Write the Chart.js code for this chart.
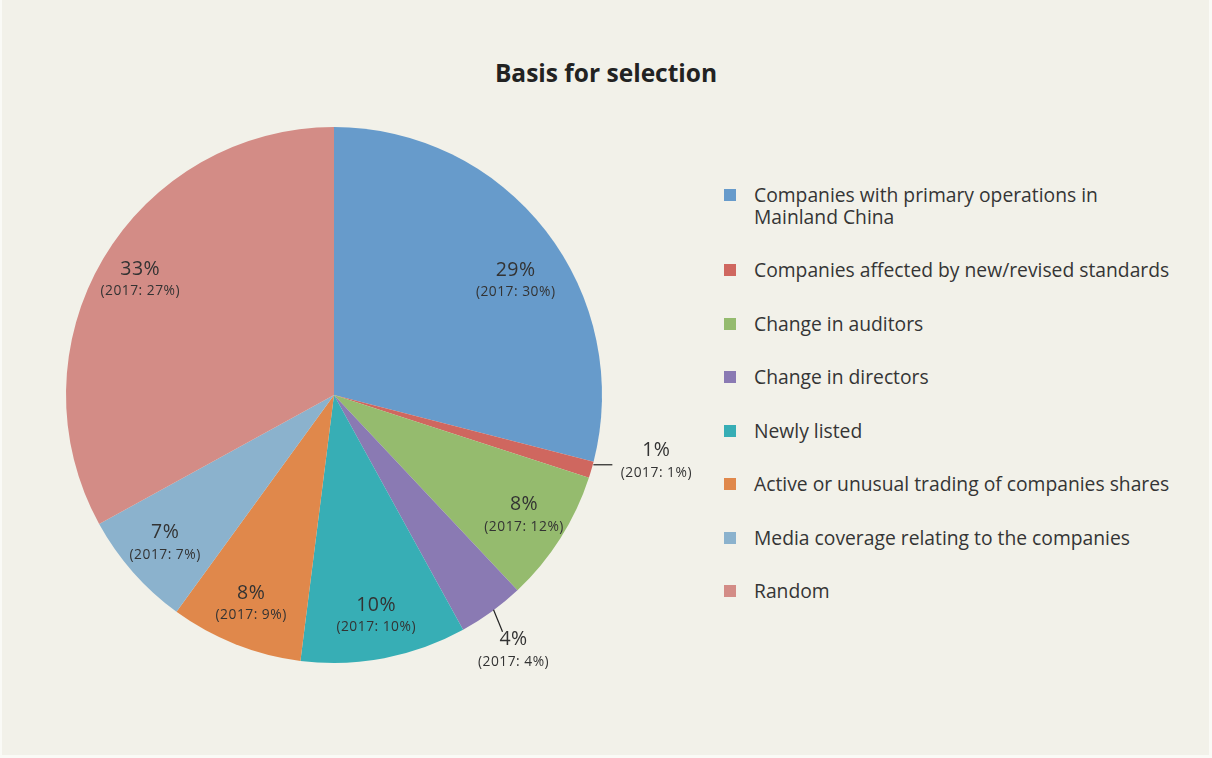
<!DOCTYPE html>
<html>
<head>
<meta charset="utf-8">
<script src="https://cdn.jsdelivr.net/npm/chart.js@4/dist/chart.umd.min.js"></script>
<style>
    html, body { margin: 0; padding: 0; }
    body { width: 1212px; height: 758px; background: #fafaf6; position: relative; overflow: hidden; font-family: "Open Sans", sans-serif; color: #333; }
    #panel { position: absolute; left: 2px; top: 0; width: 1207px; height: 755px; background: #f2f1e9; }
    #title { position: absolute; left: 0; width: 1212px; top: 56px; text-align: center; font-weight: bold; font-size: 24.5px; color: #222; }
    #chartBox { position: absolute; left: 0; top: 0; width: 720px; height: 758px; }
    #legend { position: absolute; left: 724px; top: 184px; width: 485px; }
    .item { position: relative; padding-left: 30px; font-size: 19.3px; line-height: 21.5px; margin-bottom: 32px; color: #353535; }
    .item i { position: absolute; left: 0; top: 5px; width: 12px; height: 12px; }
</style>
</head>
<body>
<div id="panel"></div>
<div id="title">Basis for selection</div>
<div id="chartBox"><canvas id="pieChart"></canvas></div>
<div id="legend"></div>
<script>
// basis for selection data
const categories = [
    'Companies with primary operations in\nMainland China',
    'Companies affected by new/revised standards',
    'Change in auditors',
    'Change in directors',
    'Newly listed',
    'Active or unusual trading of companies shares',
    'Media coverage relating to the companies',
    'Random'
];
const values2018 = [29, 1, 8, 4, 10, 8, 7, 33];
const values2017 = [30, 1, 12, 4, 10, 9, 7, 27];
const colors = ['#679bcb', '#cf675f', '#95bb6e', '#8a7ab3', '#37aeb5', '#e0884b', '#8bb2cd', '#d38c86'];

// legend built from the same arrays
const legendEl = document.getElementById('legend');
categories.forEach((c, i) => {
    const div = document.createElement('div');
    div.className = 'item';
    div.innerHTML = `<i style="background:${colors[i]}"></i>` + c.split('\n').join('<br>');
    legendEl.appendChild(div);
});

// labels drawn on top of arcs; small slices get a leader line
const pieLabels = {
    id: 'pieLabels',
    afterDatasetsDraw(chart) {
        const ctx = chart.ctx;
        const meta = chart.getDatasetMeta(0);
        ctx.save();
        ctx.fillStyle = '#333';
        ctx.textAlign = 'center';
        ctx.textBaseline = 'middle';
        meta.data.forEach((arc, i) => {
            const { x, y, startAngle, endAngle, outerRadius } = arc.getProps(['x', 'y', 'startAngle', 'endAngle', 'outerRadius'], true);
            let mid = (startAngle + endAngle) / 2;
            let lx, ly;
            if (values2018[i] <= 1) {
                const ex = x + Math.cos(mid) * outerRadius, ey = y + Math.sin(mid) * outerRadius - 5;
                ctx.strokeStyle = '#222'; ctx.lineWidth = 1.2;
                ctx.beginPath(); ctx.moveTo(ex + 2, ey); ctx.lineTo(ex + 21, ey); ctx.stroke();
                lx = ex + 65; ly = ey - 14;
            } else if (values2018[i] <= 4) {
                const ex = x + Math.cos(mid) * outerRadius, ey = y + Math.sin(mid) * outerRadius;
                ctx.strokeStyle = '#222'; ctx.lineWidth = 1.2;
                ctx.beginPath(); ctx.moveTo(ex + 2, ey - 2); ctx.lineTo(ex + 11, ey + 20); ctx.stroke();
                lx = ex + 22; ly = ey + 28;
            } else {
                // the big first slice has its label pulled a little lower, as in the print
                let k = 0.84;
                if (i === 0) { mid += 0.1; k = 0.8; }
                lx = x + Math.cos(mid) * outerRadius * k;
                ly = y + Math.sin(mid) * outerRadius * k - 11;
            }
            ctx.letterSpacing = '0.5px';
            ctx.font = '19.5px "Open Sans", sans-serif';
            ctx.fillText(values2018[i] + '%', lx, ly);
            ctx.letterSpacing = '0.5px';
            ctx.font = '13.8px "Open Sans", sans-serif';
            ctx.fillText('(2017: ' + values2017[i] + '%)', lx, ly + 22);
        });
        ctx.restore();
    }
};

new Chart(document.getElementById('pieChart'), {
    type: 'pie',
    data: {
        labels: categories,
        datasets: [{ data: values2018, backgroundColor: colors, borderWidth: 0 }]
    },
    options: {
        responsive: true,
        maintainAspectRatio: false,
        animation: false,
        layout: { padding: { left: 66, right: 118, top: 127, bottom: 95 } },
        plugins: { legend: { display: false }, tooltip: { enabled: false } }
    },
    plugins: [pieLabels]
});
</script>
</body>
</html>
